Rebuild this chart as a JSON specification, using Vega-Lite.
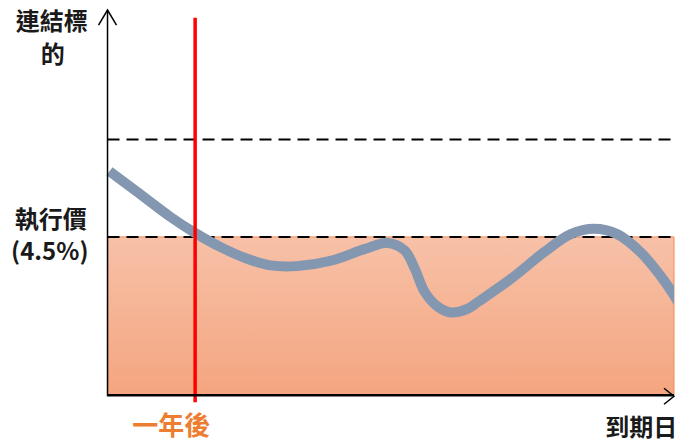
{
  "$schema": "https://vega.github.io/schema/vega-lite/v6.json",
  "autosize": {"type": "fit", "contains": "padding"},
  "width": 677,
  "height": 441,
  "padding": 0,
  "background": "white",
  "config": {"view": {"stroke": null}},
  "datasets": {
    "zone": [{"x": 0, "x2": 569, "y": 0, "y2": 4.5}],
    "levels": [{"level": "strike", "y": 4.5, "xs": 0, "xe": 569}, {"level": "upper", "y": 7.27, "xs": 0, "xe": 569}],
    "path": [
      {"x": 2, "y": 6.37}, {"x": 30.3, "y": 5.77}, {"x": 63.7, "y": 5.06}, {"x": 87, "y": 4.63},
      {"x": 113.7, "y": 4.21}, {"x": 140.3, "y": 3.88}, {"x": 163.7, "y": 3.69}, {"x": 190.3, "y": 3.67},
      {"x": 225.3, "y": 3.83}, {"x": 258.7, "y": 4.16}, {"x": 282, "y": 4.33}, {"x": 298.7, "y": 4.11},
      {"x": 308.7, "y": 3.59}, {"x": 318.7, "y": 2.93}, {"x": 332, "y": 2.51}, {"x": 345.3, "y": 2.35},
      {"x": 362, "y": 2.46}, {"x": 372, "y": 2.65}, {"x": 405.3, "y": 3.31}, {"x": 438.7, "y": 4.07},
      {"x": 465.3, "y": 4.58}, {"x": 488.7, "y": 4.73}, {"x": 512, "y": 4.58}, {"x": 535.3, "y": 4.07},
      {"x": 555.3, "y": 3.4}, {"x": 569, "y": 2.84}, {"x": 582, "y": 2.18}
    ],
    "oneyear": [{"x": 88, "y": -0.2, "y2": 10.73}],
    "yaxis": [{"x": 0, "y": -0.03, "y2": 10.95}],
    "xaxis": [{"x": 0, "x2": 569, "y": 0}],
    "yarrow": [{"x": 0, "y": 10.95}],
    "xarrow": [{"x": 569, "y": -0.03}],
    "leftlabels": [
      {"label": "連結標", "x": -56, "y": 10.585},
      {"label": "的", "x": -55, "y": 9.65},
      {"label": "執行價", "x": -57, "y": 4.953},
      {"label": "(4.5%)", "x": -58, "y": 4.047}
    ],
    "timelabel": [{"label": "一年後", "x": 64, "y": -0.9}],
    "maturity": [{"label": "到期日", "x": 500, "y": -0.95}]
  },
  "layer": [
    {
      "data": {"name": "zone"},
      "mark": {"type": "rect", "stroke": "#F08C54", "strokeWidth": 1,
        "fill": {"gradient": "linear", "x1": 0, "y1": 0, "x2": 0, "y2": 1,
          "stops": [{"offset": 0, "color": "#F7C1A8"}, {"offset": 1, "color": "#F4A57F"}]}},
      "encoding": {
        "x": {"field": "x", "type": "quantitative", "scale": {"domain": [-108, 569], "nice": false, "zero": false}, "axis": null},
        "x2": {"field": "x2"},
        "y": {"field": "y", "type": "quantitative", "scale": {"domain": [-1.245, 11.236], "nice": false, "zero": false}, "axis": null},
        "y2": {"field": "y2"}
      }
    },
    {
      "data": {"name": "levels"},
      "mark": {"type": "rule", "color": "black", "strokeWidth": 2, "strokeDash": [12, 7]},
      "encoding": {
        "x": {"field": "xs", "type": "quantitative"},
        "x2": {"field": "xe"},
        "y": {"field": "y", "type": "quantitative"}
      }
    },
    {
      "data": {"name": "path"},
      "mark": {"type": "line", "color": "#8497B0", "strokeWidth": 10, "interpolate": "catmull-rom", "strokeCap": "butt", "clip": true},
      "encoding": {
        "x": {"field": "x", "type": "quantitative"},
        "y": {"field": "y", "type": "quantitative"}
      }
    },
    {
      "data": {"name": "oneyear"},
      "mark": {"type": "rule", "color": "#FF0000", "strokeWidth": 3.5},
      "encoding": {
        "x": {"field": "x", "type": "quantitative"},
        "y": {"field": "y", "type": "quantitative"},
        "y2": {"field": "y2"}
      }
    },
    {
      "data": {"name": "yaxis"},
      "mark": {"type": "rule", "color": "black", "strokeWidth": 1.5},
      "encoding": {
        "x": {"field": "x", "type": "quantitative"},
        "y": {"field": "y", "type": "quantitative"},
        "y2": {"field": "y2"}
      }
    },
    {
      "data": {"name": "xaxis"},
      "mark": {"type": "rule", "color": "black", "strokeWidth": 2.5},
      "encoding": {
        "x": {"field": "x", "type": "quantitative"},
        "x2": {"field": "x2"},
        "y": {"field": "y", "type": "quantitative"}
      }
    },
    {
      "data": {"name": "yarrow"},
      "mark": {"type": "point", "shape": "M-1.2,2L0,0L1.2,2", "size": 225, "filled": false, "stroke": "black", "strokeWidth": 1.5, "opacity": 1},
      "encoding": {
        "x": {"field": "x", "type": "quantitative"},
        "y": {"field": "y", "type": "quantitative"}
      }
    },
    {
      "data": {"name": "xarrow"},
      "mark": {"type": "point", "shape": "M-1.25,-1L0,0L-1.25,1", "size": 256, "filled": false, "stroke": "black", "strokeWidth": 1.5, "opacity": 1},
      "encoding": {
        "x": {"field": "x", "type": "quantitative"},
        "y": {"field": "y", "type": "quantitative"}
      }
    },
    {
      "data": {"name": "leftlabels"},
      "mark": {"type": "text", "font": "Noto Sans CJK TC", "fontWeight": "bold", "fontSize": 24, "color": "#1a1a1a", "align": "center", "baseline": "middle"},
      "encoding": {
        "x": {"field": "x", "type": "quantitative"},
        "y": {"field": "y", "type": "quantitative"},
        "text": {"field": "label"}
      }
    },
    {
      "data": {"name": "timelabel"},
      "mark": {"type": "text", "font": "Noto Sans CJK TC", "fontWeight": "bold", "fontSize": 26, "color": "#ED7D31", "align": "center", "baseline": "middle"},
      "encoding": {
        "x": {"field": "x", "type": "quantitative"},
        "y": {"field": "y", "type": "quantitative"},
        "text": {"field": "label"}
      }
    },
    {
      "data": {"name": "maturity"},
      "mark": {"type": "text", "font": "Noto Sans CJK TC", "fontWeight": "bold", "fontSize": 24, "color": "#1a1a1a", "align": "left", "baseline": "middle"},
      "encoding": {
        "x": {"field": "x", "type": "quantitative"},
        "y": {"field": "y", "type": "quantitative"},
        "text": {"field": "label"}
      }
    }
  ]
}
